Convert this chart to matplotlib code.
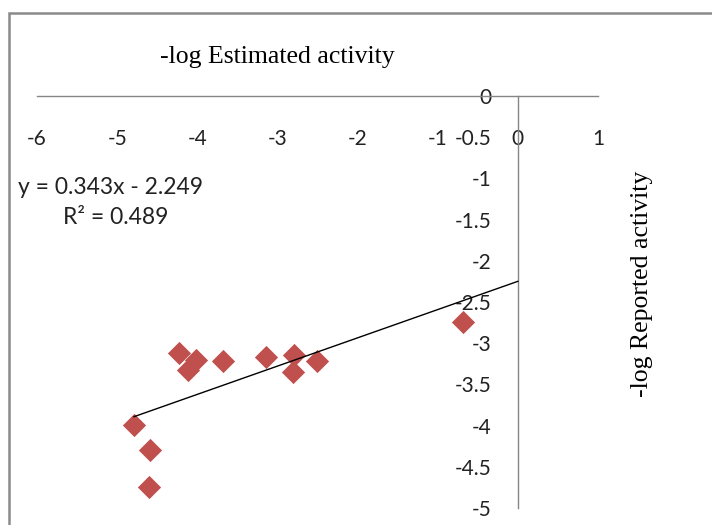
import matplotlib.pyplot as plt
from matplotlib.patches import Rectangle
import numpy as np

# -log estimated vs -log reported activity
estimated = [-4.79, -4.59, -4.60, -4.23, -4.02, -4.11, -3.675, -3.14, -2.79, -2.81, -2.51, -0.69]
reported = [-3.99, -4.30, -4.74, -3.12, -3.20, -3.32, -3.22, -3.17, -3.14, -3.35, -3.21, -2.74]

slope = 0.343
intercept = -2.249
r_squared = 0.489

x_ticks = [-6, -5, -4, -3, -2, -1, 0, 1]
y_ticks = [0, -0.5, -1, -1.5, -2, -2.5, -3, -3.5, -4, -4.5, -5]

tick_font = "Lato"
title_font = "Liberation Serif"

fig = plt.figure(figsize=(7.12, 5.25), dpi=100)
W, H = 712, 525
ax = fig.add_axes([37 / W, 1 - 508 / H, 561 / W, 412 / H])
ax.set_facecolor("none")

ax.set_xlim(-6, 1)
ax.set_ylim(-5, 0)

ax.scatter(estimated, reported, marker="D", s=140, color="#C0504D", zorder=3, linewidths=0)

# linear trendline over the data range up to x = 0
xs = np.array([min(estimated), 0])
ax.plot(xs, slope * xs + intercept, color="black", lw=1, zorder=4)

for s in ["top", "right"]:
    ax.spines[s].set_visible(False)
ax.spines["bottom"].set_position(("data", 0))
ax.spines["left"].set_position(("data", 0))
for s in ["bottom", "left"]:
    ax.spines[s].set_color("#868686")
    ax.spines[s].set_linewidth(1)

ax.set_xticks(x_ticks)
ax.set_xticklabels([str(t) for t in x_ticks])
ax.set_yticks(y_ticks)
ax.set_yticklabels([f"{t:g}" for t in y_ticks])
ax.tick_params(axis="x", length=0, pad=24, labelsize=15, colors="#222222")
ax.tick_params(axis="y", length=0, pad=19, labelsize=15, colors="#222222")
for lab in ax.get_xticklabels() + ax.get_yticklabels():
    lab.set_fontfamily(tick_font)

fig.text(277 / W, 1 - 57 / H, "-log Estimated activity", ha="center", va="center",
         fontsize=18.5, family=title_font)
fig.text(642 / W, 1 - 284 / H, "-log Reported activity", ha="center", va="center",
         rotation=90, fontsize=18.5, family=title_font)

fig.text(18 / W, 1 - 188 / H, f"y = {slope}x - {abs(intercept)}", ha="left", va="center",
         fontsize=16.5, family=tick_font, color="#222222")
fig.text(116 / W, 1 - 218 / H, f"R\u00b2 = {r_squared}", ha="center", va="center",
         fontsize=16.5, family=tick_font, color="#222222")

# chart area border
fig.patches.append(Rectangle((9 / W, -0.2), 1.2, 1 - 13 / H + 0.2, transform=fig.transFigure,
                             fill=False, edgecolor="#8a8a8a", lw=1.8, clip_on=False))

fig.savefig("out.png", dpi=100)
